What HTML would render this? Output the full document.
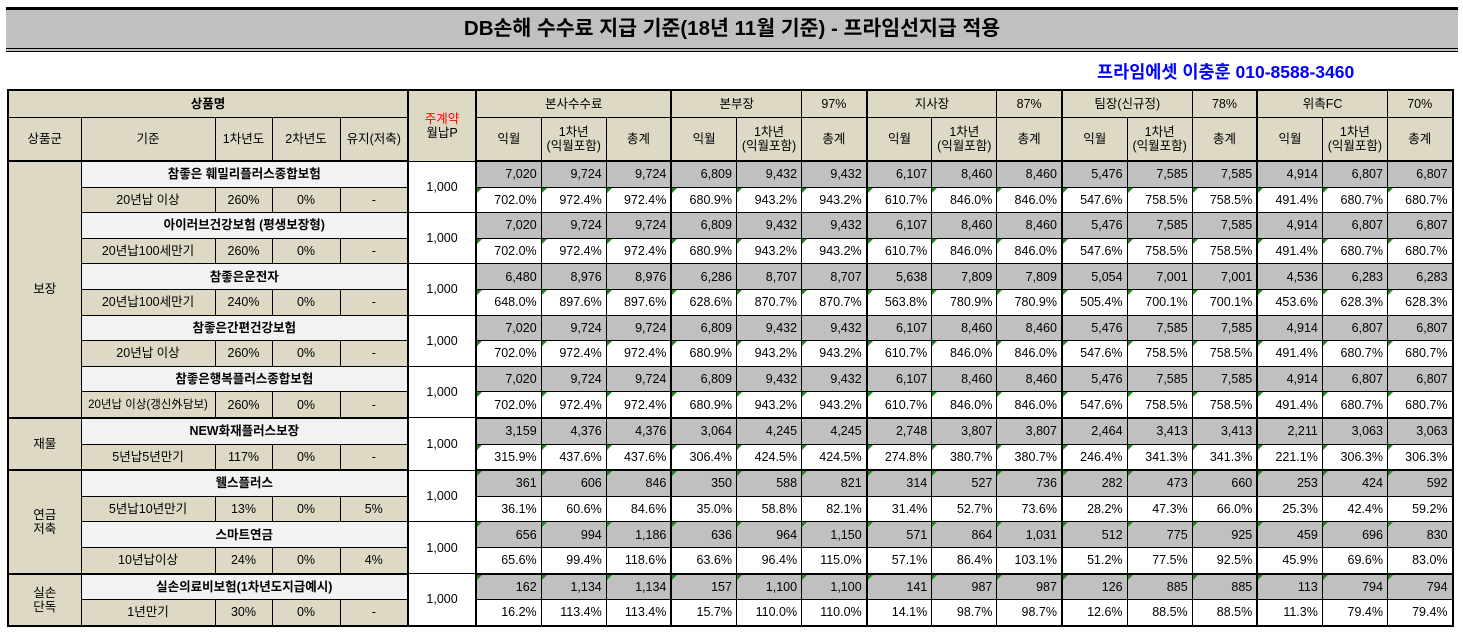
<!DOCTYPE html>
<html><head><meta charset="utf-8">
<style>
body{margin:0;width:1463px;height:638px;background:#fff;font-family:"Liberation Sans","Noto Sans CJK KR",sans-serif;position:relative;overflow:hidden}
#title{position:absolute;left:6px;top:7px;width:1452px;height:38px;background:#c0c0c0;border-top:3px solid #000;border-bottom:4px double #000;text-align:center;font-weight:bold;font-size:20.5px;line-height:38px;color:#000}
#sub{position:absolute;left:1097px;top:59px;font-weight:bold;font-size:17.5px;color:#0000ff}
table{position:absolute;left:7px;top:89px;border-collapse:collapse;table-layout:fixed;width:1446px;border:2px solid #000;font-size:12.5px}
td{border:1px solid #000;padding:0 4px;text-align:center;white-space:nowrap;overflow:hidden;position:relative;line-height:14px}
.bg{background:#ddd9c4}
.nm{background:#f2f2f2;font-weight:bold}
.g{background:#c0c0c0;text-align:right}
.w{background:#fff;text-align:right}
.tri::before{content:"";position:absolute;left:0;top:0;border-top:5px solid #1a8a1a;border-right:5px solid transparent}
.tl{border-left:2px solid #000}
.tb td{border-bottom:2px solid #000}
.h1 td{height:26px}
.h2 td{height:42px;border-bottom:2px solid #000}
.r td{height:24.6px}
</style></head>
<body>
<div id="title">DB손해 수수료 지급 기준(18년 11월 기준) - 프라임선지급 적용</div>
<div id="sub">프라임에셋 이충훈 010-8588-3460</div>
<table id="tbl">
<colgroup><col style="width:73px"><col style="width:134px"><col style="width:57px"><col style="width:68px"><col style="width:68px"><col style="width:68px">
<col span="15" style="width:65.1px"></colgroup>
<tr class="h1">
<td class="bg" colspan="5" style="font-weight:bold">상품명</td>
<td class="bg tl" rowspan="2"><span style="color:#f00">주계약</span><br>월납P</td>
<td class="bg tl" colspan="3">본사수수료</td>
<td class="bg tl" colspan="2">본부장</td>
<td class="bg">97%</td>
<td class="bg tl" colspan="2">지사장</td>
<td class="bg">87%</td>
<td class="bg tl" colspan="2">팀장(신규정)</td>
<td class="bg">78%</td>
<td class="bg tl" colspan="2">위촉FC</td>
<td class="bg">70%</td>
</tr>
<tr class="h2" id="h2">
<td class="bg">상품군</td>
<td class="bg">기준</td>
<td class="bg">1차년도</td>
<td class="bg">2차년도</td>
<td class="bg">유지(저축)</td>
</tr>
</table>
<script>
const groups=[["보장",5],["재물",1],["연금<br>저축",2],["실손<br>단독",1]];
const names=["참좋은 훼밀리플러스종합보험","아이러브건강보험 (평생보장형)","참좋은운전자","참좋은간편건강보험","참좋은행복플러스종합보험","NEW화재플러스보장","웰스플러스","스마트연금","실손의료비보험(1차년도지급예시)"];
const basis=["20년납 이상","20년납100세만기","20년납100세만기","20년납 이상","20년납 이상(갱신外담보)","5년납5년만기","5년납10년만기","10년납이상","1년만기"];
const y1=["260%","260%","240%","260%","260%","117%","13%","24%","30%"];
const y2=["0%","0%","0%","0%","0%","0%","0%","0%","0%"];
const keep=["-","-","-","-","-","-","5%","4%","-"];
const prem=["1,000","1,000","1,000","1,000","1,000","1,000","1,000","1,000","1,000"];
const A=["7,020","9,724","9,724","6,809","9,432","9,432","6,107","8,460","8,460","5,476","7,585","7,585","4,914","6,807","6,807"];
const Ap=["702.0%","972.4%","972.4%","680.9%","943.2%","943.2%","610.7%","846.0%","846.0%","547.6%","758.5%","758.5%","491.4%","680.7%","680.7%"];
const amounts=[A,A,
["6,480","8,976","8,976","6,286","8,707","8,707","5,638","7,809","7,809","5,054","7,001","7,001","4,536","6,283","6,283"],A,A,
["3,159","4,376","4,376","3,064","4,245","4,245","2,748","3,807","3,807","2,464","3,413","3,413","2,211","3,063","3,063"],
["361","606","846","350","588","821","314","527","736","282","473","660","253","424","592"],
["656","994","1,186","636","964","1,150","571","864","1,031","512","775","925","459","696","830"],
["162","1,134","1,134","157","1,100","1,100","141","987","987","126","885","885","113","794","794"]];
const rates=[Ap,Ap,
["648.0%","897.6%","897.6%","628.6%","870.7%","870.7%","563.8%","780.9%","780.9%","505.4%","700.1%","700.1%","453.6%","628.3%","628.3%"],Ap,Ap,
["315.9%","437.6%","437.6%","306.4%","424.5%","424.5%","274.8%","380.7%","380.7%","246.4%","341.3%","341.3%","221.1%","306.3%","306.3%"],
["36.1%","60.6%","84.6%","35.0%","58.8%","82.1%","31.4%","52.7%","73.6%","28.2%","47.3%","66.0%","25.3%","42.4%","59.2%"],
["65.6%","99.4%","118.6%","63.6%","96.4%","115.0%","57.1%","86.4%","103.1%","51.2%","77.5%","92.5%","45.9%","69.6%","83.0%"],
["16.2%","113.4%","113.4%","15.7%","110.0%","110.0%","14.1%","98.7%","98.7%","12.6%","88.5%","88.5%","11.3%","79.4%","79.4%"]];
const subH=["익월","1차년<br>(익월포함)","총계","익월","1차년<br>(익월포함)","총계","익월","1차년<br>(익월포함)","총계","익월","1차년<br>(익월포함)","총계","익월","1차년<br>(익월포함)","총계"];
const thickCols=[0,3,6,9,12];
const h2=document.getElementById('h2');
subH.forEach((t,i)=>{const c=document.createElement('td');c.className='bg'+(thickCols.includes(i)?' tl':'');c.innerHTML=t;


h2.appendChild(c);});
const tb=document.getElementById('tbl');
let p=0;
groups.forEach((g,gi)=>{
 for(let k=0;k<g[1];k++,p++){
  const last=k===g[1]-1;
  const r1=document.createElement('tr');r1.className='r';
  
  
  const r2=document.createElement('tr');r2.className='r'+(last?' tb':'');
  
  
  if(k===0){const c=document.createElement('td');c.className='bg';c.rowSpan=g[1]*2;c.innerHTML=g[0];c.style.borderBottom='2px solid #000';
   
   
   r1.appendChild(c);}
  const n=document.createElement('td');n.className='nm';n.colSpan=4;n.textContent=names[p];
  
  
  r1.appendChild(n);
  const pr=document.createElement('td');pr.className='tl';pr.rowSpan=2;pr.textContent=prem[p];pr.style.background='#fff';
  
  
  r1.appendChild(pr);
  [basis[p],y1[p],y2[p],keep[p]].forEach((v,j)=>{const c=document.createElement('td');c.className='bg';c.textContent=v;
   if(j===0&&p===4)c.style.fontSize='11.5px';
   
   
   r2.appendChild(c);});
  const topTri=(p===6||p===7||p===8);
  amounts[p].forEach((v,i)=>{const c=document.createElement('td');c.className='g'+(thickCols.includes(i)?' tl':'')+(topTri?' tri':'');c.textContent=v;
   
   
   r1.appendChild(c);});
  rates[p].forEach((v,i)=>{const c=document.createElement('td');c.className='w'+(thickCols.includes(i)?' tl':'')+(topTri?'':' tri');c.textContent=v;
   
   
   r2.appendChild(c);});
  tb.appendChild(r1);tb.appendChild(r2);
 }
});
</script>
</body></html>
